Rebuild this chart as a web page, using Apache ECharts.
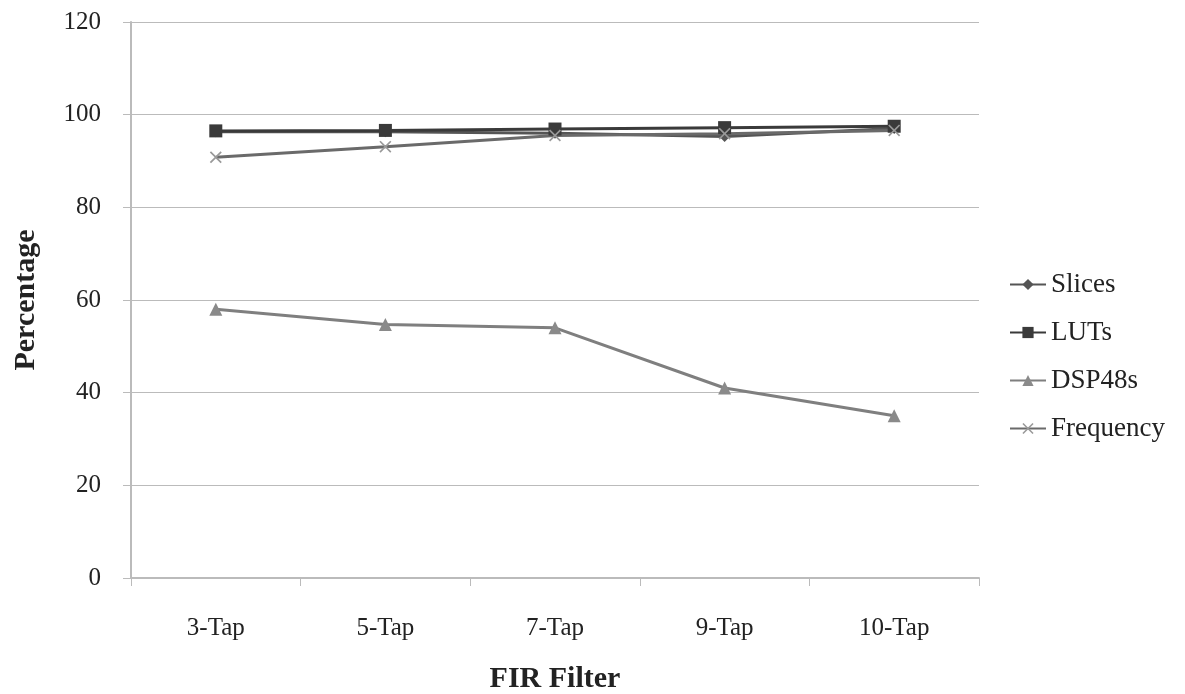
<!DOCTYPE html>
<html><head><meta charset="utf-8">
<script src="https://cdn.jsdelivr.net/npm/echarts@6/dist/echarts.min.js"></script>
<style>html,body{margin:0;padding:0;background:#fff}#c{width:1185px;height:694px}</style>
</head><body><div id="c"></div>
<script>
const categories = ['3-Tap','5-Tap','7-Tap','9-Tap','10-Tap'];
const slices = [96.3, 96.3, 96.0, 95.3, 97.0];
const luts = [96.5, 96.6, 96.9, 97.2, 97.5];
const dsp48s = [58.0, 54.7, 54.0, 41.0, 35.0];
const frequency = [90.8, 93.1, 95.5, 95.9, 96.6];
const yTicks = [0, 20, 40, 60, 80, 100, 120];

const font = '"Liberation Serif", "DejaVu Serif", serif';
const xPath = 'path://M0,1L1,0L5,4L9,0L10,1L6,5L10,9L9,10L5,6L1,10L0,9L4,5Z';
const chart = echarts.init(document.getElementById('c'));
chart.setOption({
  animation: false,
  backgroundColor: '#fff',
  grid: {left: 131, right: 206, top: 22, bottom: 116, outerBoundsMode: 'none', containLabel: false},
  legend: {
    orient: 'vertical', left: 1004, top: 266, itemGap: 21, itemWidth: 36, itemHeight: 14,
    textStyle: {fontFamily: font, fontSize: 27, color: '#222'},
    data: ['Slices','LUTs','DSP48s','Frequency']
  },
  xAxis: {
    type: 'category', data: categories, boundaryGap: true,
    name: 'FIR Filter', nameLocation: 'middle', nameGap: 86,
    nameTextStyle: {fontFamily: font, fontSize: 30, fontWeight: 'bold', color: '#222'},
    axisLine: {lineStyle: {color: '#bbb', width: 2}},
    axisTick: {show: true, length: 8, lineStyle: {color: '#bbb', width: 1}},
    axisLabel: {fontFamily: font, fontSize: 25, color: '#222', margin: 38}
  },
  yAxis: {
    type: 'value', min: 0, max: 120, interval: 20,
    name: 'Percentage', nameLocation: 'middle', nameGap: 90,
    nameTextStyle: {fontFamily: font, fontSize: 30, fontWeight: 'bold', color: '#222'},
    axisLine: {show: true, lineStyle: {color: '#bbb', width: 2}},
    axisTick: {show: true, length: 8, lineStyle: {color: '#bbb'}},
    splitLine: {lineStyle: {color: '#bbb', width: 1}},
    axisLabel: {fontFamily: font, fontSize: 25, color: '#222', margin: 30,
      formatter: v => yTicks.includes(v) ? String(v) : ''}
  },
  series: [
    {name: 'Slices', type: 'line', data: slices, symbol: 'diamond', symbolSize: 11,
     lineStyle: {color: '#555', width: 3}, itemStyle: {color: '#555'}},
    {name: 'LUTs', type: 'line', data: luts, symbol: 'rect', symbolSize: 13,
     lineStyle: {color: '#3a3a3a', width: 3}, itemStyle: {color: '#3a3a3a'}},
    {name: 'DSP48s', type: 'line', data: dsp48s, symbol: 'triangle', symbolSize: 13,
     lineStyle: {color: '#7f7f7f', width: 3}, itemStyle: {color: '#8a8a8a'}},
    {name: 'Frequency', type: 'line', data: frequency, symbol: xPath, symbolSize: 12,
     lineStyle: {color: '#6a6a6a', width: 3}, itemStyle: {color: '#999'}}
  ]
});
</script></body></html>
